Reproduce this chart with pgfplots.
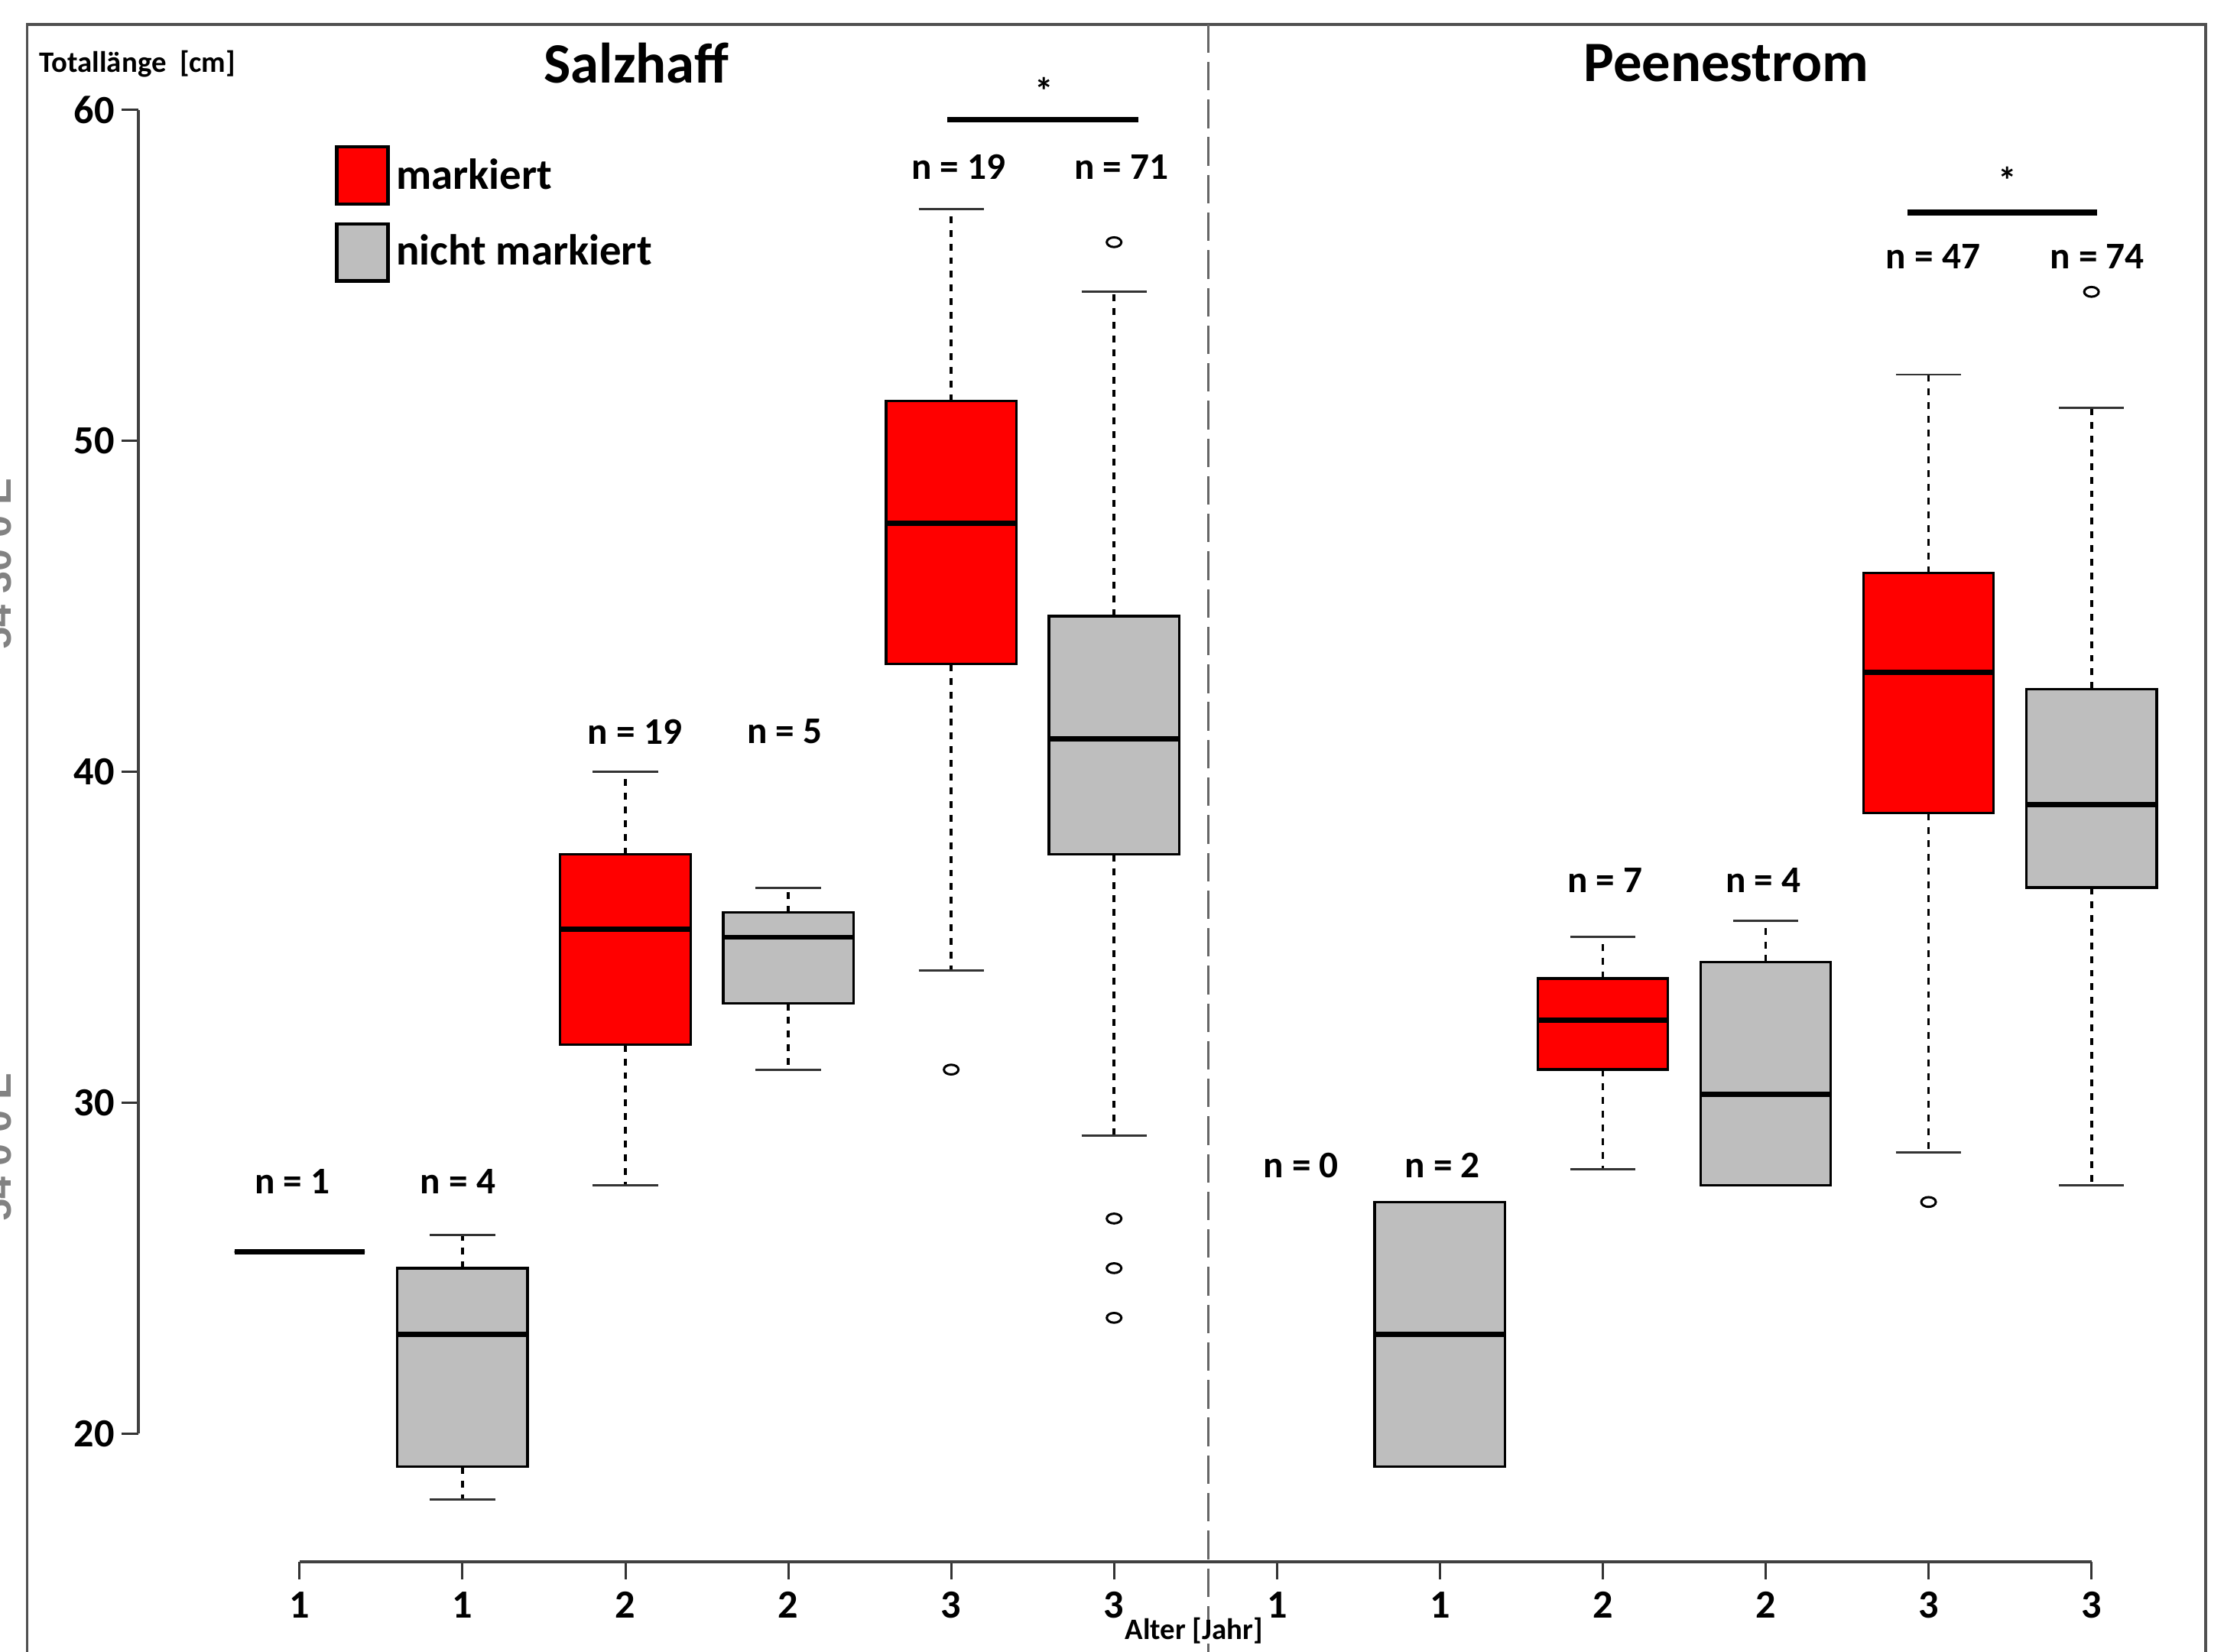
\documentclass[border=0pt]{standalone}
\usepackage{pgfplots}
\pgfplotsset{compat=1.18}
\usepgfplotslibrary{statistics}
\usepackage{fontspec}
\setmainfont{Carlito}
\newfontfamily\arialfont{Liberation Sans}
\definecolor{boxred}{RGB}{255,0,0}
\definecolor{boxgray}{RGB}{190,190,190}
\definecolor{framegray}{RGB}{80,80,80}
\definecolor{mapgray}{RGB}{130,130,130}

\pgfplotsset{
  mybox/.style={
    draw=black,
    boxplot/draw direction=y,
    boxplot/box extend=0.8,
    boxplot/whisker extend=0.4,
    boxplot/every box/.style={fill=#1, draw=black, line width=0.45pt},
    boxplot/every median/.style={draw=black, line width=0.9pt},
    boxplot/draw/lower whisker/.code={%
      \draw[black, line width=0.5pt, dash pattern=on 1.2pt off 1.2pt]
        (boxplot box cs:\pgfplotsboxplotvalue{lower quartile},0.5) --
        (boxplot box cs:\pgfplotsboxplotvalue{lower whisker},0.5);
      \draw[black!80, line width=0.4pt]
        (boxplot whisker cs:\pgfplotsboxplotvalue{lower whisker},0) --
        (boxplot whisker cs:\pgfplotsboxplotvalue{lower whisker},1);
    },
    boxplot/draw/upper whisker/.code={%
      \draw[black, line width=0.5pt, dash pattern=on 1.2pt off 1.2pt]
        (boxplot box cs:\pgfplotsboxplotvalue{upper quartile},0.5) --
        (boxplot box cs:\pgfplotsboxplotvalue{upper whisker},0.5);
      \draw[black!80, line width=0.4pt]
        (boxplot whisker cs:\pgfplotsboxplotvalue{upper whisker},0) --
        (boxplot whisker cs:\pgfplotsboxplotvalue{upper whisker},1);
    },
    mark=o, mark size=0.85pt,
    mark options={xscale=1.5, draw=black, line width=0.4pt, solid, fill=none},
  },
}
\tikzset{nlab/.style={font=\bfseries\fontsize{6.6}{7.5}\selectfont, inner sep=0pt}}

\begin{document}
\begin{tikzpicture}
\begin{axis}[
  scale only axis, width=356.52pt, height=260.30pt,
  xmin=0.0104, xmax=12.5, ymin=16.121, ymax=61,
  clip=false,
  boxplot/draw direction=y,
  axis x line=bottom, axis y line=left,
  axis line style={draw=none},
  tick align=outside, major tick length=3pt,
  tick style={black!80, line width=0.4pt},
  xtick={1,2,3,4,5,6,7,8,9,10,11,12},
  xticklabels={1,1,2,2,3,3,1,1,2,2,3,3},
  ytick={20,30,40,50,60},
  minor tick num=0,
  /pgf/number format/assume math mode=true,
  ticklabel style={font=\bfseries\fontsize{7}{8}\selectfont},
  yticklabel style={inner sep=1pt},
  xticklabel style={inner sep=2pt},
]
% bounding box corners
\coordinate (bbtl) at (axis cs:-0.8392,63.319);
\coordinate (bbbr) at (axis cs:12.8935,13.405);

% outer frame and separator
\draw[framegray, line width=0.5pt] (axis cs:-0.6728,12.888) -- (axis cs:-0.6728,62.586) -- (axis cs:12.701,62.586) -- (axis cs:12.701,12.888);
\draw[black!60, line width=0.35pt, dash pattern=on 5pt off 1.6pt] (axis cs:6.579,62.586) -- (axis cs:6.579,12.888);

% axis lines (R style)
\draw[black!75, line width=0.55pt] (axis cs:1,16.121) -- (axis cs:12,16.121);
\draw[black!75, line width=0.55pt] (axis cs:0.0104,20) -- (axis cs:0.0104,60);

% map remnants at the left edge
\node[rotate=90, anchor=base, font=\arialfont\bfseries\fontsize{7}{8}\selectfont, text=mapgray, inner sep=0pt] at (axis cs:-0.769,46.29) {54 30 0 E};
\node[rotate=90, anchor=base, font=\arialfont\bfseries\fontsize{7}{8}\selectfont, text=mapgray, inner sep=0pt] at (axis cs:-0.769,28.66) {54 0 0 E};

% Salzhaff
\addplot[mybox=boxred, boxplot prepared={draw position=1, lower whisker=25.5, lower quartile=25.5, median=25.5, upper quartile=25.5, upper whisker=25.5}] coordinates {};
\addplot[mybox=boxgray, boxplot prepared={draw position=2, lower whisker=18, lower quartile=19, median=23, upper quartile=25, upper whisker=26}] coordinates {};
\addplot[mybox=boxred, boxplot prepared={draw position=3, lower whisker=27.5, lower quartile=31.75, median=35.25, upper quartile=37.5, upper whisker=40}] coordinates {};
\addplot[mybox=boxgray, boxplot prepared={draw position=4, lower whisker=31, lower quartile=33, median=35, upper quartile=35.75, upper whisker=36.5}] coordinates {};
\addplot[mybox=boxred, boxplot prepared={draw position=5, lower whisker=34, lower quartile=43.25, median=47.5, upper quartile=51.2, upper whisker=57}] table[row sep=\\, y index=0] {v\\ 31\\};
\addplot[mybox=boxgray, boxplot prepared={draw position=6, lower whisker=29, lower quartile=37.5, median=41, upper quartile=44.7, upper whisker=54.5}] table[row sep=\\, y index=0] {v\\ 56\\ 26.5\\ 25\\ 23.5\\};

% Peenestrom
\addplot[mybox=boxgray, boxplot prepared={draw position=8, lower whisker=19, lower quartile=19, median=23, upper quartile=27, upper whisker=27}] coordinates {};
\addplot[mybox=boxred, boxplot prepared={draw position=9, lower whisker=28, lower quartile=31, median=32.5, upper quartile=33.75, upper whisker=35}] coordinates {};
\addplot[mybox=boxgray, boxplot prepared={draw position=10, lower whisker=27.5, lower quartile=27.5, median=30.25, upper quartile=34.25, upper whisker=35.5}] coordinates {};
\addplot[mybox=boxred, boxplot prepared={draw position=11, lower whisker=28.5, lower quartile=38.75, median=43, upper quartile=46, upper whisker=52}] table[row sep=\\, y index=0] {v\\ 27\\};
\addplot[mybox=boxgray, boxplot prepared={draw position=12, lower whisker=27.5, lower quartile=36.5, median=39, upper quartile=42.5, upper whisker=51}] table[row sep=\\, y index=0] {v\\ 54.5\\};

% sample sizes
\node[nlab] at (axis cs:0.956,27.63) {n = 1};
\node[nlab] at (axis cs:1.972,27.63) {n = 4};
\node[nlab] at (axis cs:3.058,41.21) {n = 19};
\node[nlab] at (axis cs:3.978,41.21) {n = 5};
\node[nlab] at (axis cs:5.046,58.28) {n = 19};
\node[nlab] at (axis cs:6.045,58.28) {n = 71};
\node[nlab] at (axis cs:7.148,28.10) {n = 0};
\node[nlab] at (axis cs:8.015,28.10) {n = 2};
\node[nlab] at (axis cs:9.014,36.72) {n = 7};
\node[nlab] at (axis cs:9.986,36.72) {n = 4};
\node[nlab] at (axis cs:11.028,55.56) {n = 47};
\node[nlab] at (axis cs:12.035,55.56) {n = 74};

% significance
\draw[black, line width=1pt] (axis cs:4.976,59.70) -- (axis cs:6.150,59.70);
\node[nlab, anchor=base] at (axis cs:5.572,60.17) {*};
\draw[black, line width=1pt] (axis cs:10.870,56.90) -- (axis cs:12.035,56.90);
\node[nlab, anchor=base] at (axis cs:11.483,57.46) {*};

% titles and labels
\node[font=\bfseries\fontsize{10}{12}\selectfont, inner sep=0pt] at (axis cs:3.067,61.42) {Salzhaff};
\node[font=\bfseries\fontsize{10}{12}\selectfont, inner sep=0pt] at (axis cs:9.758,61.42) {Peenestrom};
\node[anchor=west, font=\bfseries\fontsize{5.2}{6.5}\selectfont, inner sep=0pt] at (axis cs:-0.6027,61.38) {Totallänge\ \ [cm]};
\node[font=\bfseries\fontsize{5.2}{6.5}\selectfont, inner sep=0pt] at (axis cs:6.491,14.05) {Alter [Jahr]};

% legend
\draw[black, line width=0.6pt, fill=boxred] (axis cs:1.2277,58.879) rectangle (axis cs:1.543,57.155);
\draw[black, line width=0.6pt, fill=boxgray] (axis cs:1.2277,56.552) rectangle (axis cs:1.543,54.828);
\node[anchor=west, font=\bfseries\fontsize{7.6}{9}\selectfont, inner sep=0pt] at (axis cs:1.587,58.06) {markiert};
\node[anchor=west, font=\bfseries\fontsize{7.6}{9}\selectfont, inner sep=0pt] at (axis cs:1.587,55.776) {nicht markiert};
\end{axis}
\pgfresetboundingbox
\useasboundingbox (bbtl) rectangle (bbbr);
\end{tikzpicture}
\end{document}
